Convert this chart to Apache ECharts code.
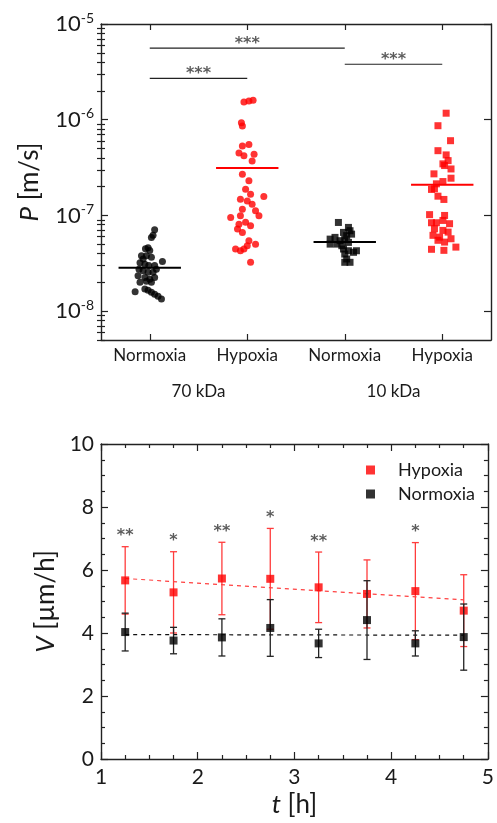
<!DOCTYPE html>
<html>
<head>
<meta charset="utf-8">
<script src="https://cdn.jsdelivr.net/npm/echarts@6/dist/echarts.min.js"></script>
<style>
html, body { margin: 0; padding: 0; background: #fff; }
#chart { width: 497px; height: 823px; }
</style>
</head>
<body>
<div id="chart"></div>
<script>
// ---- top panel: permeability, jitter offset + value per point ----
var groupNames = ['Normoxia', 'Hypoxia', 'Normoxia', 'Hypoxia'];
var sizeNames = ['70 kDa', '10 kDa'];

var normoxia70 = [
    [0.05, 7.1e-8], [0.034, 6.2e-8], [0.017, 5.9e-8],
    [-0.017, 4.6e-8], [-0.044, 4.5e-8], [0, 4.3e-8],
    [-0.085, 3.8e-8], [-0.034, 3.8e-8], [0.017, 3.65e-8], [-0.068, 3.5e-8], [0.13, 3.3e-8],
    [-0.1, 3.2e-8], [-0.05, 3.1e-8], [-0.01, 3.0e-8], [0.05, 3.0e-8],
    [-0.11, 2.75e-8], [-0.068, 2.65e-8], [-0.017, 2.55e-8], [0.034, 2.55e-8], [0.068, 2.75e-8],
    [-0.12, 2.35e-8], [-0.05, 2.25e-8], [0, 2.15e-8], [0.05, 2.25e-8],
    [-0.1, 2.0e-8], [-0.034, 2.05e-8], [0.017, 2.0e-8],
    [-0.15, 1.6e-8], [-0.05, 1.7e-8], [-0.017, 1.65e-8], [0.017, 1.58e-8], [0.05, 1.5e-8], [0.085, 1.43e-8], [0.12, 1.34e-8]
];
var hypoxia70 = [
    [-0.034, 1.53e-6], [0.017, 1.57e-6], [0.06, 1.6e-6],
    [-0.06, 9.3e-7], [-0.05, 8.6e-7],
    [-0.05, 5.3e-7], [0.017, 5.5e-7], [-0.085, 4.5e-7], [-0.034, 4.2e-7], [0.07, 4.35e-7], [0.05, 3.7e-7],
    [-0.05, 2.7e-7], [0.017, 2.3e-7],
    [-0.017, 1.88e-7], [0.034, 1.67e-7], [0.17, 1.58e-7],
    [-0.07, 1.48e-7], [0, 1.42e-7], [0.05, 1.31e-7],
    [-0.05, 1.16e-7], [0.085, 1.12e-7],
    [-0.17, 9.5e-8], [-0.07, 9.9e-8], [0.12, 9.9e-8],
    [-0.085, 8.1e-8], [-0.017, 8.5e-8], [0.034, 7.8e-8],
    [-0.1, 7.2e-8], [-0.05, 6.65e-8],
    [0.017, 5.45e-8], [0.085, 5.0e-8], [0, 4.83e-8],
    [-0.12, 4.46e-8], [-0.07, 4.28e-8], [-0.034, 4.46e-8],
    [0.034, 3.24e-8]
];
var normoxia10 = [
    [-0.065, 8.45e-8],
    [0.038, 7.5e-8], [0.054, 6.93e-8], [-0.013, 6.65e-8],
    [0.02, 6.15e-8], [0.07, 6.38e-8],
    [-0.15, 5.66e-8], [-0.1, 5.9e-8], [-0.048, 5.45e-8], [0, 5.66e-8], [0.038, 5.23e-8],
    [-0.15, 5.02e-8], [-0.08, 5.02e-8], [-0.03, 4.83e-8],
    [-0.013, 4.46e-8], [0.038, 4.28e-8],
    [0, 3.95e-8], [0.09, 4.12e-8], [0.12, 4.28e-8],
    [0.02, 3.51e-8], [0.054, 3.24e-8], [0, 3.24e-8]
];
var hypoxia10 = [
    [0.04, 1.17e-6], [-0.044, 8.66e-7], [0.085, 6.04e-7],
    [-0.044, 4.75e-7], [0.04, 4.29e-7],
    [0.06, 3.74e-7], [0.007, 3.46e-7], [0.09, 3.06e-7], [0.024, 3.32e-7],
    [-0.085, 2.72e-7], [0.09, 2.45e-7], [0.007, 2.26e-7],
    [-0.06, 2.14e-7], [-0.11, 1.87e-7], [-0.08, 1.9e-7], [-0.044, 1.59e-7], [0.017, 1.47e-7],
    [-0.13, 1.02e-7], [0.024, 1.0e-7],
    [-0.11, 8.39e-8], [-0.06, 8.39e-8], [0.007, 8.87e-8], [0.075, 8.2e-8],
    [-0.08, 7.26e-8], [0.007, 6.98e-8], [0.06, 6.7e-8],
    [-0.095, 6.2e-8], [-0.027, 5.94e-8],
    [-0.044, 5.5e-8], [0.024, 5.27e-8], [0.09, 5.71e-8],
    [-0.11, 4.43e-8], [0.017, 4.32e-8], [0.14, 4.67e-8]
];
var groupMeans = [2.85e-8, 3.14e-7, 5.28e-8, 2.09e-7];

// significance brackets (group positions, level)
var sigFrom = [0.5, 0.5, 2.5];
var sigTo = [2.5, 1.5, 3.5];
var sigLevel = [5.6e-6, 2.7e-6, 3.8e-6];
var sigText = ['***', '***', '***'];

// ---- bottom panel: velocity vs time ----
var hours = [1.25, 1.75, 2.25, 2.75, 3.25, 3.75, 4.25, 4.75];
var hypMean = [5.67, 5.29, 5.73, 5.72, 5.45, 5.24, 5.33, 4.71];
var hypErr = [1.07, 1.29, 1.15, 1.6, 1.12, 1.08, 1.54, 1.14];
var normMean = [4.03, 3.76, 3.86, 4.16, 3.67, 4.41, 3.67, 3.87];
var normErr = [0.6, 0.42, 0.59, 0.9, 0.45, 1.25, 0.4, 1.05];
var fitHours = [1.25, 4.75];
var hypFit = [5.73, 5.05];
var normFit = [3.95, 3.93];
var starIdx = [0, 1, 2, 3, 4, 6];
var starText = ['**', '*', '**', '*', '**', '*'];

var FONT = 'Lato';
var STAR_FONT = 'DejaVu Sans';
var INK = '#1a1a1a';
var RED = '#ff0000';

var chart = echarts.init(document.getElementById('chart'));

var decadeTicks = [1e-8, 1e-7, 1e-6, 1e-5];
var minorLog = [];
for (var e = -9; e <= -6; e++) {
    for (var k = 2; k <= 9; k++) {
        var v = k * Math.pow(10, e);
        if (v >= 5e-9 && v <= 1e-5) minorLog.push(v);
    }
}
var groupCenters = [0.5, 1.5, 2.5, 3.5];

function frameLine() {
    return { show: true, onZero: false, lineStyle: { color: '#222', width: 1.4 } };
}

function jitter(points, g) {
    return points.map(function (p) { return [groupCenters[g] + p[0], p[1]]; });
}

function meanLine(g, color) {
    return {
        type: 'line', xAxisIndex: 0, yAxisIndex: 0, symbol: 'none', silent: true,
        lineStyle: { color: color, width: 2 }, z: 4,
        data: [[groupCenters[g] - 0.32, groupMeans[g]], [groupCenters[g] + 0.32, groupMeans[g]]]
    };
}

function errorBars(color) {
    return function (params, api) {
        var x = api.value(0);
        var lo = api.coord([x, api.value(1)]);
        var hi = api.coord([x, api.value(2)]);
        var w = 3.5;
        var st = { stroke: color, lineWidth: 1.3 };
        return {
            type: 'group',
            children: [
                { type: 'line', shape: { x1: lo[0], y1: lo[1], x2: hi[0], y2: hi[1] }, style: st },
                { type: 'line', shape: { x1: lo[0] - w, y1: lo[1], x2: lo[0] + w, y2: lo[1] }, style: st },
                { type: 'line', shape: { x1: hi[0] - w, y1: hi[1], x2: hi[0] + w, y2: hi[1] }, style: st }
            ]
        };
    };
}

var series = [];

// top panel points
series.push({ name: 'n70', type: 'scatter', xAxisIndex: 0, yAxisIndex: 0, symbol: 'circle', symbolSize: 7,
    itemStyle: { color: '#000' }, data: jitter(normoxia70, 0) });
series.push({ name: 'h70', type: 'scatter', xAxisIndex: 0, yAxisIndex: 0, symbol: 'circle', symbolSize: 7,
    itemStyle: { color: RED }, data: jitter(hypoxia70, 1) });
series.push({ name: 'n10', type: 'scatter', xAxisIndex: 0, yAxisIndex: 0, symbol: 'rect', symbolSize: 7,
    itemStyle: { color: '#000' }, data: jitter(normoxia10, 2) });
series.push({ name: 'h10', type: 'scatter', xAxisIndex: 0, yAxisIndex: 0, symbol: 'rect', symbolSize: 7,
    itemStyle: { color: RED }, data: jitter(hypoxia10, 3) });
series.push(meanLine(0, '#000'), meanLine(1, RED), meanLine(2, '#000'), meanLine(3, RED));

// significance brackets
sigLevel.forEach(function (lv, i) {
    series.push({
        type: 'line', xAxisIndex: 0, yAxisIndex: 0, symbol: 'none', silent: true,
        lineStyle: { color: '#222', width: 1.2 },
        data: [[sigFrom[i], lv], [sigTo[i], lv]]
    });
});
series.push({
    type: 'scatter', xAxisIndex: 0, yAxisIndex: 0, symbolSize: 1, silent: true,
    itemStyle: { color: 'rgba(0,0,0,0)' },
    label: { show: true, position: 'top', distance: -4, color: '#333', fontFamily: STAR_FONT, fontSize: 16,
        fontWeight: 'bold', formatter: function (p) { return sigText[p.dataIndex]; } },
    data: sigLevel.map(function (lv, i) { return [(sigFrom[i] + sigTo[i]) / 2, lv]; })
});

// bottom panel
series.push({
    type: 'line', xAxisIndex: 3, yAxisIndex: 4, symbol: 'none', silent: true,
    lineStyle: { color: '#ff4040', width: 1.2, type: [4, 4] },
    data: fitHours.map(function (t, i) { return [t, hypFit[i]]; })
});
series.push({
    type: 'line', xAxisIndex: 3, yAxisIndex: 4, symbol: 'none', silent: true,
    lineStyle: { color: '#111', width: 1.2, type: [4, 4] },
    data: fitHours.map(function (t, i) { return [t, normFit[i]]; })
});
series.push({
    type: 'custom', xAxisIndex: 3, yAxisIndex: 4, silent: true,
    renderItem: errorBars('#ff3c3c'), encode: { x: 0, y: [1, 2] },
    data: hours.map(function (t, i) { return [t, hypMean[i] - hypErr[i], hypMean[i] + hypErr[i]]; })
});
series.push({
    name: 'Hypoxia', type: 'scatter', xAxisIndex: 3, yAxisIndex: 4, symbol: 'rect', symbolSize: 8,
    itemStyle: { color: RED }, z: 3,
    data: hours.map(function (t, i) { return [t, hypMean[i]]; })
});
series.push({
    type: 'custom', xAxisIndex: 3, yAxisIndex: 4, silent: true, z: 4,
    renderItem: errorBars('#222'), encode: { x: 0, y: [1, 2] },
    data: hours.map(function (t, i) { return [t, normMean[i] - normErr[i], normMean[i] + normErr[i]]; })
});
series.push({
    name: 'Normoxia', type: 'scatter', xAxisIndex: 3, yAxisIndex: 4, symbol: 'rect', symbolSize: 8,
    itemStyle: { color: '#000' }, z: 5,
    data: hours.map(function (t, i) { return [t, normMean[i]]; })
});
series.push({
    type: 'scatter', xAxisIndex: 3, yAxisIndex: 4, symbolSize: 1, silent: true,
    itemStyle: { color: 'rgba(0,0,0,0)' },
    label: { show: true, position: 'top', distance: 2, color: '#333', fontFamily: STAR_FONT, fontSize: 16,
        fontWeight: 'bold', formatter: function (p) { return starText[p.dataIndex]; } },
    data: starIdx.map(function (i) { return [hours[i], hypMean[i] + hypErr[i]]; })
});

var nameStyle = {
    fontSize: 26, fontFamily: FONT, color: INK,
    rich: { i: { fontSize: 26, fontFamily: FONT, fontStyle: 'italic', color: INK } }
};

var option = {
    animation: false,
    backgroundColor: '#fff',
    textStyle: { fontFamily: FONT },
    grid: [
        { left: 101, top: 24, width: 390, height: 316 },
        { left: 101, top: 444, width: 390, height: 315 }
    ],
    legend: {
        data: ['Hypoxia', 'Normoxia'], orient: 'vertical', left: 361, top: 456,
        icon: 'rect', itemWidth: 9, itemHeight: 9, itemGap: 6, selectedMode: false,
        textStyle: { fontFamily: FONT, fontSize: 18, color: INK, padding: [0, 0, 0, 18] }
    },
    xAxis: [
        { gridIndex: 0, type: 'value', min: 0, max: 4, position: 'bottom', axisLine: frameLine(),
            axisTick: { inside: true, length: 6, customValues: groupCenters, lineStyle: { color: '#222', width: 1.2 } },
            axisLabel: { customValues: groupCenters, margin: 7, fontSize: 17, color: INK, fontFamily: FONT,
                formatter: function (v) { return groupNames[Math.floor(v)]; } },
            splitLine: { show: false } },
        { gridIndex: 0, type: 'value', min: 0, max: 4, position: 'top', axisLine: frameLine(),
            axisTick: { inside: true, length: 6, customValues: groupCenters, lineStyle: { color: '#222', width: 1.2 } },
            axisLabel: { show: false }, splitLine: { show: false } },
        { gridIndex: 0, type: 'value', min: 0, max: 4, position: 'bottom', axisLine: { show: false },
            axisTick: { show: false },
            axisLabel: { customValues: [1, 3], margin: 43, fontSize: 17, color: INK, fontFamily: FONT,
                formatter: function (v) { return sizeNames[(v - 1) / 2]; } },
            splitLine: { show: false } },
        { gridIndex: 1, type: 'value', min: 1, max: 5, interval: 1, position: 'bottom', axisLine: frameLine(),
            axisTick: { inside: true, length: 7, lineStyle: { color: '#222', width: 1.2 } },
            minorTick: { show: true, splitNumber: 4, length: 4, lineStyle: { color: '#222', width: 1.2 } },
            axisLabel: { margin: 8, fontSize: 21, color: INK, fontFamily: FONT },
            splitLine: { show: false },
            name: '{i|t} [h]', nameLocation: 'middle', nameGap: 33, nameTextStyle: nameStyle },
        { gridIndex: 1, type: 'value', min: 1, max: 5, interval: 1, position: 'top', axisLine: frameLine(),
            axisTick: { inside: true, length: 7, lineStyle: { color: '#222', width: 1.2 } },
            minorTick: { show: true, splitNumber: 4, length: 4, lineStyle: { color: '#222', width: 1.2 } },
            axisLabel: { show: false }, splitLine: { show: false } }
    ],
    yAxis: [
        { gridIndex: 0, type: 'log', min: 5e-9, max: 1e-5, position: 'left', axisLine: frameLine(),
            axisTick: { inside: true, length: 7, customValues: decadeTicks, lineStyle: { color: '#222', width: 1.2 } },
            axisLabel: { customValues: decadeTicks, margin: 7, color: INK,
                formatter: function (v) { return '{b|10}{s|' + Math.round(Math.log10(v)) + '}'; },
                rich: {
                    b: { fontSize: 22, fontFamily: FONT, color: INK, lineHeight: 26 },
                    s: { fontSize: 14, fontFamily: FONT, color: INK, verticalAlign: 'top', lineHeight: 14 }
                } },
            splitLine: { show: false },
            name: '{i|P} [m/s]', nameLocation: 'middle', nameGap: 58, nameTextStyle: nameStyle },
        { gridIndex: 0, type: 'log', min: 5e-9, max: 1e-5, position: 'left', axisLine: { show: false },
            axisTick: { inside: true, length: 4, customValues: minorLog, lineStyle: { color: '#222', width: 1.2 } },
            axisLabel: { show: false }, splitLine: { show: false } },
        { gridIndex: 0, type: 'log', min: 5e-9, max: 1e-5, position: 'right', axisLine: frameLine(),
            axisTick: { inside: true, length: 7, customValues: decadeTicks, lineStyle: { color: '#222', width: 1.2 } },
            axisLabel: { show: false }, splitLine: { show: false } },
        { gridIndex: 0, type: 'log', min: 5e-9, max: 1e-5, position: 'right', axisLine: { show: false },
            axisTick: { inside: true, length: 4, customValues: minorLog, lineStyle: { color: '#222', width: 1.2 } },
            axisLabel: { show: false }, splitLine: { show: false } },
        { gridIndex: 1, type: 'value', min: 0, max: 10, interval: 2, position: 'left', axisLine: frameLine(),
            axisTick: { inside: true, length: 7, lineStyle: { color: '#222', width: 1.2 } },
            minorTick: { show: true, splitNumber: 4, length: 4, lineStyle: { color: '#222', width: 1.2 } },
            axisLabel: { margin: 7, fontSize: 21, color: INK, fontFamily: FONT },
            splitLine: { show: false },
            name: '{i|V} [\u00b5m/h]', nameLocation: 'middle', nameGap: 40, nameTextStyle: nameStyle },
        { gridIndex: 1, type: 'value', min: 0, max: 10, interval: 2, position: 'right', axisLine: frameLine(),
            axisTick: { inside: true, length: 7, lineStyle: { color: '#222', width: 1.2 } },
            minorTick: { show: true, splitNumber: 4, length: 4, lineStyle: { color: '#222', width: 1.2 } },
            axisLabel: { show: false }, splitLine: { show: false } }
    ],
    series: series
};

chart.setOption(option);
</script>
</body>
</html>
